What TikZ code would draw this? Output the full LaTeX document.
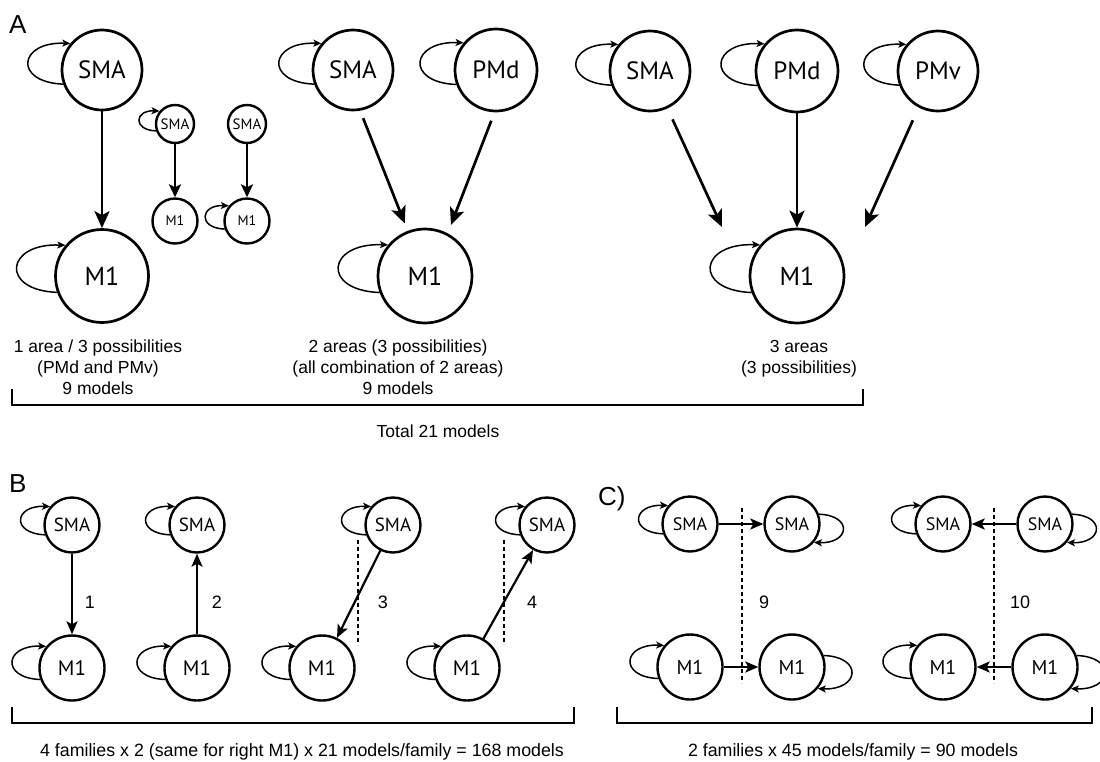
\documentclass[tikz,border=0pt]{standalone}
\usepackage{fontspec}
\setmainfont{Liberation Sans}
\newfontfamily\nodefont{PT Sans}
\usetikzlibrary{arrows.meta}
\newcommand\selfL[2]{\draw[selfloop] (#1.200) .. controls +({-1.25*#2},{-0.05*#2}) and +({-1.3*#2},{-0.05*#2}) .. (#1.140);}
\newcommand\selfR[2]{\draw[selfloop] (#1.20) .. controls +({1.25*#2},{0.05*#2}) and +({1.3*#2},{0.05*#2}) .. (#1.320);}
\begin{document}
\begin{tikzpicture}[x=1pt,y=-1pt,
  nd/.style n args={3}{circle, draw, line width=#3, inner sep=0pt, minimum size=#1, font=\nodefont\fontsize{#2}{#2}\selectfont},
  selfloop/.style={line width=1.5pt, -{Stealth[length=8pt,width=7pt,inset=2pt]}},
  bigarr/.style={line width=2.7pt, -{Stealth[length=17pt,width=15pt,inset=4pt]}},
  smallarr/.style={line width=2.4pt, -{Stealth[length=13pt,width=12pt,inset=3pt]}},
  medarr/.style={line width=2.2pt, -{Stealth[length=13pt,width=11pt,inset=3pt]}},
  dsh/.style={line width=1.4pt, dash pattern=on 4pt off 3pt},
  brk/.style={line width=1.4pt},
  txt/.style={font=\fontsize{17.5}{17.5}\selectfont, inner sep=0pt, anchor=base},
  lab/.style={font=\fontsize{18}{18}\selectfont, inner sep=0pt},
  panel/.style={font=\fontsize{26}{26}\selectfont, inner sep=0pt, anchor=base west}
]
\useasboundingbox (0,0) rectangle (1100,761);

% ---------- Panel A ----------
\node[panel] (pA) at (9,33) {A};
\node[nd={80}{25}{2.7pt}] (a1s) at (102,70) {SMA};
\node[nd={93}{26}{2.7pt}] (a1m) at (102,276) {M1};
\node[nd={38}{15}{2.4pt}] (a2s) at (175,124) {SMA};
\node[nd={45}{14}{2.4pt}] (a2m) at (175,221) {M1};
\node[nd={38}{15}{2.4pt}] (a3s) at (247,124) {SMA};
\node[nd={45}{14}{2.4pt}] (a3m) at (247,221) {M1};

\node[nd={80}{25}{2.7pt}] (a4s) at (353,70) {SMA};
\node[nd={82}{25}{2.7pt}] (a4p) at (496,70) {PMd};
\node[nd={94}{26}{2.7pt}] (a4m) at (425,276) {M1};

\node[nd={80}{25}{2.7pt}] (a5s) at (650,71) {SMA};
\node[nd={82}{25}{2.7pt}] (a5p) at (797,71) {PMd};
\node[nd={80}{25}{2.7pt}] (a5v) at (938,71) {PMv};
\node[nd={94}{26}{2.7pt}] (a5m) at (797,276) {M1};

\selfL{a1s}{40}
\selfL{a1m}{46}
\selfL{a2s}{19}
\selfL{a3m}{22}
\selfL{a4s}{40}
\selfL{a4p}{41}
\selfL{a4m}{47}
\selfL{a5s}{40}
\selfL{a5p}{41}
\selfL{a5v}{40}
\selfL{a5m}{47}

\draw[bigarr] (a1s) -- (a1m);
\draw[smallarr] (a2s) -- (a2m);
\draw[smallarr] (a3s) -- (a3m);
\draw[bigarr, shorten <=8pt, shorten >=8pt] (a4s.-80) -- (a4m.111);
\draw[bigarr, shorten <=9pt, shorten >=9pt] (a4p.-92) -- (a4m.62);
\coordinate (t1) at (722,227);
\coordinate (t2) at (865,227);
\draw[bigarr, shorten <=12pt] (a5s.-65) -- (t1);
\draw[bigarr] (a5p) -- (a5m);
\draw[bigarr, shorten <=14pt] (a5v.-118) -- (t2);

\node[txt] (ta1) at (98,352) {1 area / 3 possibilities};
\node[txt] (ta2) at (98,373) {(PMd and PMv)};
\node[txt] (ta3) at (98,394) {9 models};
\node[txt] (tb1) at (398,352) {2 areas (3 possibilities)};
\node[txt] (tb2) at (398,373) {(all combination of 2 areas)};
\node[txt] (tb3) at (398,394) {9 models};
\node[txt] (tc1) at (799,352) {3 areas};
\node[txt] (tc2) at (799,373) {(3 possibilities)};
\draw[brk] (12,389) -- (12,405) -- (863,405) -- (863,389);
\node[txt] (ttot) at (438,437) {Total 21 models};

% ---------- Panel B ----------
\node[panel] (pB) at (9,492) {B};
\node[nd={55}{19}{2.4pt}] (b1s) at (72,525) {SMA};
\node[nd={65}{21}{2.4pt}] (b1m) at (72,668) {M1};
\node[nd={55}{19}{2.4pt}] (b2s) at (197,525) {SMA};
\node[nd={65}{21}{2.4pt}] (b2m) at (197,668) {M1};
\node[nd={55}{19}{2.4pt}] (b3s) at (393,525) {SMA};
\node[nd={65}{21}{2.4pt}] (b3m) at (322,668) {M1};
\node[nd={55}{19}{2.4pt}] (b4s) at (547,525) {SMA};
\node[nd={65}{21}{2.4pt}] (b4m) at (467,668) {M1};
\foreach \n in {b1s,b2s,b3s,b4s} {\selfL{\n}{27.5}}
\foreach \n in {b1m,b2m,b3m,b4m} {\selfL{\n}{32}}
\draw[medarr] (b1s) -- (b1m);
\draw[medarr] (b2m) -- (b2s);
\draw[medarr] (b3s) -- (b3m);
\draw[medarr] (b4m) -- (b4s);
\draw[dsh] (358,540) -- (358,645);
\draw[dsh] (504,540) -- (504,645);
\node[lab] (l1) at (90,602) {1};
\node[lab] (l2) at (217,602) {2};
\node[lab] (l3) at (383,602) {3};
\node[lab] (l4) at (532,602) {4};
\draw[brk] (12,707) -- (12,723) -- (574,723) -- (574,707);
\node[txt, font=\fontsize{17.8}{17.8}\selectfont] (tB) at (302,756) {4 families x 2 (same for right M1) x 21 models/family = 168 models};

% ---------- Panel C ----------
\node[panel] (pC) at (598,505) {C)};
\node[nd={55}{18}{2.4pt}] (c1a) at (690,524) {SMA};
\node[nd={55}{18}{2.4pt}] (c1b) at (792,524) {SMA};
\node[nd={65}{20}{2.4pt}] (c1c) at (690,667) {M1};
\node[nd={65}{20}{2.4pt}] (c1d) at (792,667) {M1};
\node[nd={55}{18}{2.4pt}] (c2a) at (943,524) {SMA};
\node[nd={55}{18}{2.4pt}] (c2b) at (1045,524) {SMA};
\node[nd={65}{20}{2.4pt}] (c2c) at (943,667) {M1};
\node[nd={65}{20}{2.4pt}] (c2d) at (1045,667) {M1};
\selfL{c1a}{27.5}
\selfR{c1b}{27.5}
\selfL{c1c}{32}
\selfR{c1d}{32}
\selfL{c2a}{27.5}
\selfR{c2b}{27.5}
\selfL{c2c}{32}
\selfR{c2d}{32}
\draw[medarr] (c1a) -- (c1b);
\draw[medarr] (c1c) -- (c1d);
\draw[medarr] (c2b) -- (c2a);
\draw[medarr] (c2d) -- (c2c);
\draw[dsh] (742,508) -- (742,683);
\draw[dsh] (994,508) -- (994,683);
\node[lab] (l9) at (764,602) {9};
\node[lab] (l10) at (1020,602) {10};
\draw[brk] (617,707) -- (617,723) -- (1092,723) -- (1092,707);
\node[txt, font=\fontsize{17.8}{17.8}\selectfont] (tC) at (853,756) {2 families x 45 models/family = 90 models};
\end{tikzpicture}
\end{document}
